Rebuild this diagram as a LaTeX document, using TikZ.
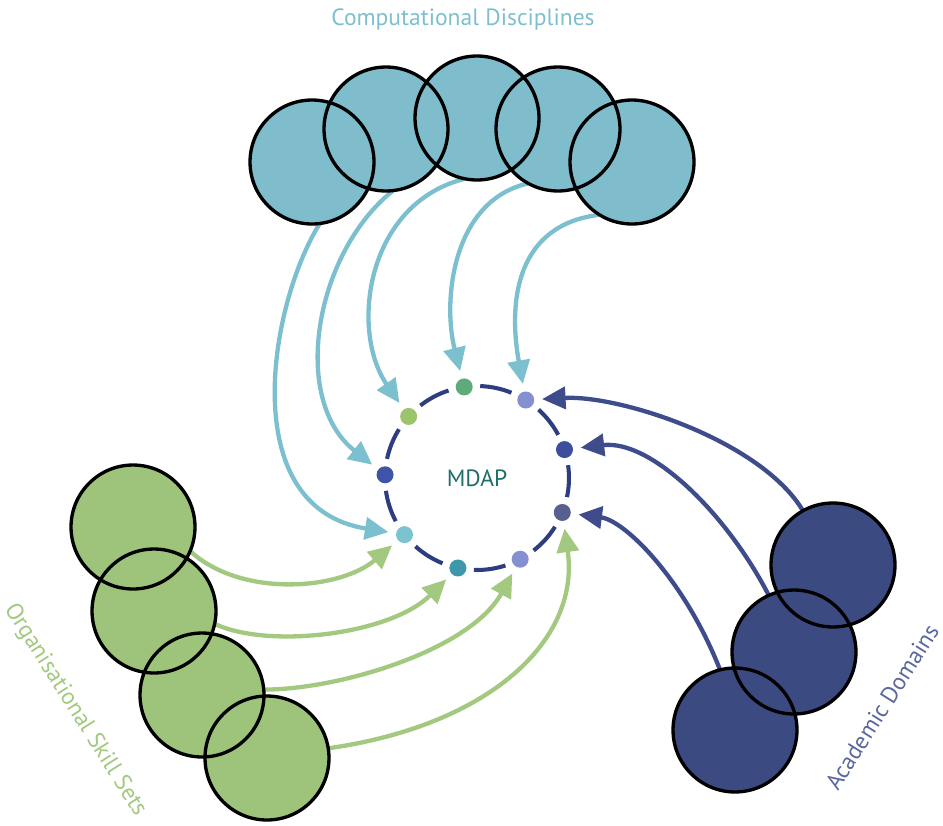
\documentclass[tikz,border=0pt]{standalone}
\usepackage{fontspec}
\setmainfont{PT Sans}
\usetikzlibrary{shapes.geometric, arrows.meta}

\definecolor{cdfill}{HTML}{7FBDCC}
\definecolor{cdline}{HTML}{7CC0CF}
\definecolor{osfill}{HTML}{9DC47A}
\definecolor{osline}{HTML}{A2C97F}
\definecolor{adfill}{HTML}{3C4A82}
\definecolor{adline}{HTML}{3E4C8C}
\definecolor{ringblue}{HTML}{2E3C80}
\definecolor{mdapteal}{HTML}{1F6E68}
\definecolor{hubnavy}{HTML}{3D4F9B}
\definecolor{hubperi}{HTML}{8490CF}
\definecolor{hubgreen}{HTML}{5DAA7A}
\definecolor{hubolive}{HTML}{9CC46C}
\definecolor{hubroyal}{HTML}{3F54A8}
\definecolor{hubsky}{HTML}{7CC3D2}
\definecolor{hubteal}{HTML}{3E97AA}
\definecolor{hubslate}{HTML}{57608E}

\tikzstyle{bigcirc} = [circle, minimum size=2.48cm, inner sep=0pt]
\tikzstyle{outline} = [draw=black, line width=1.9pt]
\tikzstyle{hub} = [circle, minimum size=0.34cm, inner sep=0pt]
\tikzstyle{ringdash} = [draw=ringblue, line width=2.3pt]
\tikzstyle{flow} = [line width=2.45pt, -{Triangle[length=0.47cm,width=0.44cm]}, shorten >=0.15cm]
\tikzstyle{cdarrow} = [flow, draw=cdline]
\tikzstyle{osarrow} = [flow, draw=osline]
\tikzstyle{adarrow} = [flow, draw=adline]
\tikzstyle{label} = [font=\fontsize{13.4}{15}\selectfont]

\begin{document}
\begin{tikzpicture}[x=0.02cm, y=-0.02cm]
		\useasboundingbox (0,0) rectangle (943,825);
		
		% centre ring
		\node (mdap) at (477,478) [label, text=mdapteal] {MDAP};
		\foreach \a in {18,58,...,338}
			\draw [ringdash] ([shift={(\a+10:1.84cm)}]mdap.center) arc[start angle=\a+10, delta angle=20, radius=1.84cm];
		\node (d1) [hub, fill=hubnavy] at ([shift={(18:1.84cm)}]mdap.center) {};
		\node (d2) [hub, fill=hubperi] at ([shift={(58:1.84cm)}]mdap.center) {};
		\node (d3) [hub, fill=hubgreen] at ([shift={(98:1.84cm)}]mdap.center) {};
		\node (d4) [hub, fill=hubolive] at ([shift={(138:1.84cm)}]mdap.center) {};
		\node (d5) [hub, fill=hubroyal] at ([shift={(178:1.84cm)}]mdap.center) {};
		\node (d6) [hub, fill=hubsky] at ([shift={(218:1.84cm)}]mdap.center) {};
		\node (d7) [hub, fill=hubteal] at ([shift={(258:1.84cm)}]mdap.center) {};
		\node (d8) [hub, fill=hubperi] at ([shift={(298:1.84cm)}]mdap.center) {};
		\node (d9) [hub, fill=hubslate] at ([shift={(338:1.84cm)}]mdap.center) {};
		
		% computational disciplines
		\node (c1) [bigcirc, fill=cdfill] at (312,162) {};
		\node (c2) [bigcirc, fill=cdfill] at (386,129) {};
		\node (c3) [bigcirc, fill=cdfill] at (477,118) {};
		\node (c4) [bigcirc, fill=cdfill] at (558,129) {};
		\node (c5) [bigcirc, fill=cdfill] at (632,162) {};
		\node (cdtitle) [label, text=cdline] at (463,19) {Computational Disciplines};
		
		% organisational skill sets
		\node (g1) [bigcirc, fill=osfill] at (133,527) {};
		\node (g2) [bigcirc, fill=osfill] at (154,611) {};
		\node (g3) [bigcirc, fill=osfill] at (202,695) {};
		\node (g4) [bigcirc, fill=osfill] at (267,758) {};
		\node (ostitle) [label, text=osline, rotate=-57.7] at (75,710) {Organisational Skill Sets};
		
		% academic domains
		\node (b1) [bigcirc, fill=adfill] at (833,565) {};
		\node (b2) [bigcirc, fill=adfill] at (794,652) {};
		\node (b3) [bigcirc, fill=adfill] at (735,730) {};
		\node (adtitle) [label, text=adline!85!white, rotate=57.7] at (882,707) {Academic Domains};
		
		\draw [cdarrow] (c1.-83) .. controls +(-50,80) and +(-170,-27) .. (d6);
		\draw [cdarrow] (c2.-84) .. controls +(-78,63) and +(-95,-75) .. (d5);
		\draw [cdarrow] (c3.-102) .. controls +(-98,25) and +(-59,-86) .. (d4);
		\draw [cdarrow] (c4.-119) .. controls +(-75,17) and +(-22,-87) .. (d3);
		\draw [cdarrow] (c5.-122) .. controls +(-82,10) and +(-18,-100) .. (d2);
		
		\draw [osarrow] (g1.-23) .. controls +(52,47) and +(-64,55) .. (d6);
		\draw [osarrow] (g2.-12) .. controls +(53,25) and +(-68,67) .. (d7);
		\draw [osarrow] (g3.5) .. controls +(75,0) and +(-50,91) .. (d8);
		\draw [osarrow] (g4.9) .. controls +(161,-23) and +(18,128) .. (d9);
		
		\draw [adarrow] (b1.119) .. controls +(-42,-70) and +(94,-5) .. (d2);
		\draw [adarrow] (b2.114) .. controls +(-43,-83) and +(86,-10) .. (d1);
		\draw [adarrow] (b3.104) .. controls +(-35,-89) and +(63,8) .. (d9);
		
		% outlines on top
		\foreach \n in {c1,c2,c3,c4,c5,g1,g2,g3,g4,b1,b2,b3}
			\draw [outline] (\n) circle (1.24cm);
		
		\end{tikzpicture}
\end{document}
